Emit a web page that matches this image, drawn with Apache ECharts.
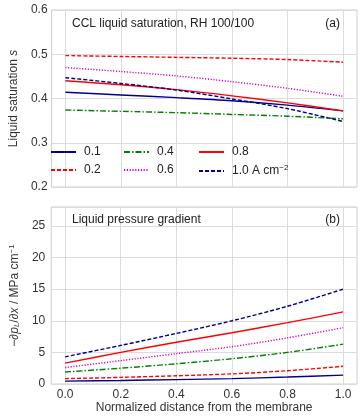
<!DOCTYPE html>
<html>
<head>
<meta charset="utf-8">
<script src="https://cdn.jsdelivr.net/npm/echarts@6/dist/echarts.min.js"></script>
<style>
  html, body { margin: 0; padding: 0; background: #fff; }
  #main { width: 363px; height: 417px; }
</style>
</head>
<body>
<div id="main"></div>
<script>
// 横轴：离膜的归一化距离
const distance = [0, 0.2, 0.4, 0.6, 0.8, 1.0];
const xTicks = [0, 0.2, 0.4, 0.6, 0.8, 1.0];

// 电流密度 (A cm-2)
const currents = ['0.1', '0.2', '0.4', '0.6', '0.8', '1.0'];

// (a) 液态饱和度 s
const sat01 = [0.414, 0.408, 0.402, 0.395, 0.385, 0.372];
const sat02 = [0.497, 0.495, 0.493, 0.491, 0.488, 0.482];
const sat04 = [0.374, 0.371, 0.368, 0.364, 0.360, 0.354];
const sat06 = [0.470, 0.461, 0.451, 0.438, 0.423, 0.405];
const sat08 = [0.440, 0.431, 0.420, 0.406, 0.390, 0.372];
const sat10 = [0.447, 0.434, 0.419, 0.399, 0.377, 0.348];

// (b) 液压梯度 MPa/cm
const grad01 = [0.45, 0.55, 0.7, 0.85, 1.1, 1.4];
const grad02 = [0.85, 1.05, 1.3, 1.6, 2.1, 2.8];
const grad04 = [1.9, 2.5, 3.2, 4.0, 5.0, 6.3];
const grad06 = [2.6, 3.7, 4.8, 5.9, 7.3, 8.9];
const grad08 = [3.3, 5.0, 6.6, 8.1, 9.7, 11.4];
const grad10 = [4.3, 6.1, 8.0, 10.0, 12.3, 15.0];

const satData = [sat01, sat02, sat04, sat06, sat08, sat10];
const gradData = [grad01, grad02, grad04, grad06, grad08, grad10];

// 线型
const styles = [
  { color: '#00008b', type: 'solid' },
  { color: '#ff0000', type: [4, 2] },
  { color: '#008000', type: [6, 2, 1.5, 2] },
  { color: '#cc00cc', type: [1.2, 1.6] },
  { color: '#ff0000', type: 'solid' },
  { color: '#00008b', type: [4, 2] }
];

const FONT = 'Liberation Sans';
const gridColor = '#dcdcdc';

function pairs(ys) {
  return distance.map((x, i) => [x, ys[i]]);
}

function makeSeries(values, idx) {
  return values.map((ys, i) => ({
    name: currents[i],
    type: 'line',
    xAxisIndex: idx,
    yAxisIndex: idx,
    data: pairs(ys),
    symbol: 'none',
    smooth: 0.3,
    lineStyle: { color: styles[i].color, type: styles[i].type, width: 1.4 },
    itemStyle: { color: styles[i].color },
    z: 3
  }));
}

function xAxisOpt(idx, showLabel) {
  return {
    type: 'value',
    gridIndex: idx,
    min: -0.05,
    max: 1.05,
    axisLine: { show: false },
    axisTick: { show: false, customValues: xTicks },
    splitLine: { show: true, lineStyle: { color: gridColor, width: 1 } },
    axisLabel: {
      show: showLabel,
      customValues: xTicks,
      formatter: v => v.toFixed(1),
      color: '#333',
      fontFamily: FONT,
      fontSize: 12,
      margin: 5
    },
    name: showLabel ? 'Normalized distance from the membrane' : '',
    nameLocation: 'middle',
    nameGap: 17,
    nameTextStyle: { color: '#333', fontFamily: FONT, fontSize: 12 }
  };
}

function legendOpt(names, left) {
  return {
    data: names,
    orient: 'vertical',
    left: left,
    top: 146,
    itemWidth: 25,
    itemHeight: 10,
    itemGap: 6,
    padding: 0,
    itemStyle: { opacity: 0 },
    textStyle: {
      fontFamily: FONT,
      fontSize: 12,
      color: '#222',
      padding: [0, 0, 0, 3],
      rich: { sup: { fontSize: 8, fontFamily: FONT, color: '#222', verticalAlign: 'top', padding: [0, 0, 6, 0] } }
    },
    formatter: name => name === '1.0' ? '1.0 A cm{sup|−2}' : name
  };
}

const titleStyle = { fontFamily: FONT, fontSize: 12, fontWeight: 'normal', color: '#222' };

const chart = echarts.init(document.getElementById('main'), null, { renderer: 'canvas' });

chart.setOption({
  animation: false,
  backgroundColor: '#fff',
  textStyle: { fontFamily: FONT },
  title: [
    { text: 'CCL liquid saturation, RH 100/100', left: 72, top: 18, padding: 0, textStyle: titleStyle },
    { text: '(a)', right: 23, top: 18, padding: 0, textStyle: titleStyle },
    { text: 'Liquid pressure gradient', left: 72, top: 214, padding: 0, textStyle: titleStyle },
    { text: '(b)', right: 23, top: 214, padding: 0, textStyle: titleStyle }
  ],
  legend: [
    legendOpt(['0.1', '0.2'], 50),
    legendOpt(['0.4', '0.6'], 123),
    legendOpt(['0.8', '1.0'], 198)
  ],
  grid: [
    { left: 40, right: 6, top: 10, height: 177, show: true, borderColor: '#cfcfcf', borderWidth: 1 },
    { left: 40, right: 6, top: 207, height: 177, show: true, borderColor: '#cfcfcf', borderWidth: 1 }
  ],
  xAxis: [xAxisOpt(0, false), xAxisOpt(1, true)],
  yAxis: [
    {
      type: 'value', gridIndex: 0, min: 0.2, max: 0.6, interval: 0.1,
      axisLine: { show: false }, axisTick: { show: false },
      splitLine: { lineStyle: { color: gridColor, width: 1 } },
      axisLabel: { formatter: v => v.toFixed(1), color: '#333', fontFamily: FONT, fontSize: 12, margin: 4 },
      name: 'Liquid saturation {i|s}',
      nameLocation: 'middle', nameGap: 25,
      nameTextStyle: { color: '#333', fontFamily: FONT, fontSize: 12,
        rich: { i: { fontStyle: 'italic', fontFamily: FONT, fontSize: 12, color: '#333' } } }
    },
    {
      type: 'value', gridIndex: 1, min: 0, max: 28, interval: 5,
      axisLine: { show: false }, axisTick: { show: false },
      splitLine: { lineStyle: { color: gridColor, width: 1 } },
      axisLabel: { showMaxLabel: false, color: '#333', fontFamily: FONT, fontSize: 12, margin: 6 },
      name: '−∂{i|p}{sub|L}/∂{i|x} / MPa cm{sup|−1}',
      nameLocation: 'middle', nameGap: 22,
      nameTextStyle: { color: '#333', fontFamily: FONT, fontSize: 12,
        rich: {
          i: { fontStyle: 'italic', fontFamily: FONT, fontSize: 12, color: '#333' },
          sub: { fontStyle: 'italic', fontFamily: FONT, fontSize: 8, color: '#333', verticalAlign: 'bottom', padding: [4, 0, 0, 0] },
          sup: { fontFamily: FONT, fontSize: 8, color: '#333', verticalAlign: 'top', padding: [0, 0, 5, 0] }
        } }
    }
  ],
  series: makeSeries(satData, 0).concat(makeSeries(gradData, 1))
});
</script>
</body>
</html>
